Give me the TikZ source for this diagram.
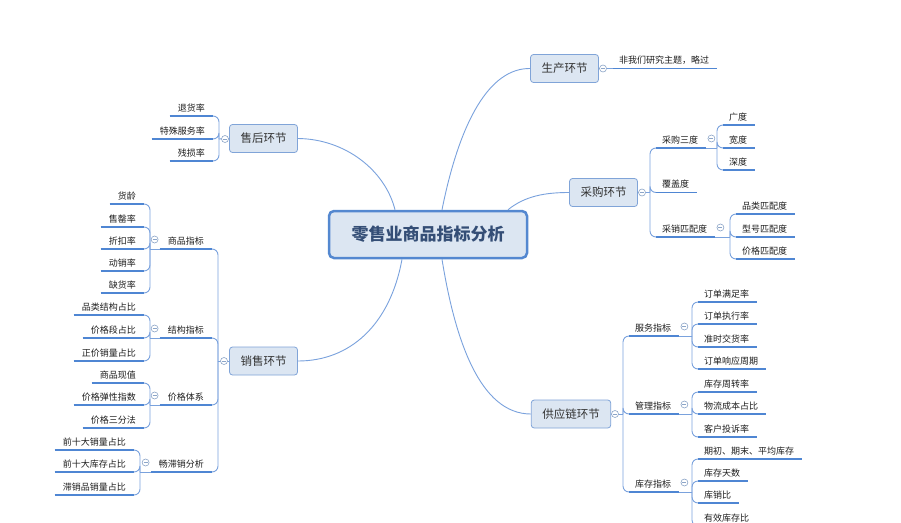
\documentclass[tikz,border=0pt]{standalone}
\usepackage{fontspec}
\setmainfont{Noto Sans CJK SC}
\usetikzlibrary{calc}
\definecolor{uln}{RGB}{79,134,211}
\definecolor{brl}{RGB}{122,162,221}
\definecolor{boxf}{RGB}{220,230,242}
\definecolor{boxd}{RGB}{128,164,216}
\definecolor{rootd}{RGB}{84,136,208}
\definecolor{roott}{RGB}{52,78,118}
\definecolor{togd}{RGB}{140,165,200}
\definecolor{txt}{RGB}{30,30,30}
\definecolor{ltxt}{RGB}{51,51,51}
\tikzset{
 lbl/.style={inner sep=0pt, font=\fontsize{9}{11}\selectfont, text=txt},
 uline/.style={draw=uln, line width=1.8pt},
 bline/.style={draw=brl, line width=0.9pt, rounded corners=6pt},
 cline/.style={draw=brl, line width=0.9pt},
 lone/.style={draw=boxd, fill=boxf, line width=0.8pt, rounded corners=3pt, inner xsep=11pt, inner ysep=0pt, minimum height=28pt, font=\fontsize{11.5}{13}\selectfont, text=ltxt},
 rootbox/.style={draw=rootd, fill=boxf, line width=2.5pt, rounded corners=5pt, minimum width=198pt, minimum height=47pt, inner sep=0pt, font=\fontsize{17}{20}\selectfont\bfseries, text=roott},
 tog/.style={circle, draw=togd, fill=white, line width=0.6pt, minimum size=7pt, inner sep=0pt,
   path picture={\draw[togd, line width=0.6pt] ([xshift=-2pt]path picture bounding box.center) -- ([xshift=2pt]path picture bounding box.center);}}
}
% right-side item: name, bracket x, line y, text
\newcommand{\RItem}[4]{%
  \node[lbl, anchor=base west] (#1) at (#2+12,#3-5) {#4};
  \coordinate (#1a) at (#2+6,#3);
  \coordinate (#1b) at ($(#1a -| #1.east)+(8,0)$);
  \draw[uline] (#1a) -- (#1b);
}
% left-side item
\newcommand{\LItem}[4]{%
  \node[lbl, anchor=base east] (#1) at (#2-14,#3-5) {#4};
  \coordinate (#1b) at (#2-6,#3);
  \coordinate (#1a) at ($(#1b -| #1.west)+(-8,0)$);
  \draw[uline] (#1a) -- (#1b);
}
\newcommand{\RPar}[5]{%
  \RItem{#1}{#2}{#3}{#4}
  \coordinate (#1J) at (#5,#3);
  \draw[bline] (#1b) -- (#1J);
  \node[tog] (#1t) at ($(#1b)+(5,-9.5)$) {};
}
\newcommand{\LPar}[5]{%
  \LItem{#1}{#2}{#3}{#4}
  \coordinate (#1J) at (#5,#3);
  \draw[bline] (#1a) -- (#1J);
  \node[tog] (#1t) at ($(#1a)+(-5,-9.5)$) {};
}
\newcommand{\RLink}[2]{\draw[bline] (#1) |- (#2a);}
\newcommand{\LLink}[2]{\draw[bline] (#1) |- (#2b);}
\begin{document}
\begin{tikzpicture}[x=1pt,y=-1pt]
\useasboundingbox (0,0) rectangle (901,522);
\fill[white] (0,0) rectangle (901,522);

% central node
\node[rootbox] (root) at (428,234.5) {零售业商品指标分析};

% level 1 nodes
\node[lone] (sc) at (564.5,68.5) {生产环节};
\node[lone] (cg) at (603.5,192.5) {采购环节};
\node[lone] (gy) at (571,414) {供应链环节};
\node[lone] (sh) at (263.5,138.5) {售后环节};
\node[lone] (xs) at (263.5,361) {销售环节};

% central connectors
\draw[cline] ([xshift=-33pt]root.north) .. controls (385,170) and (345,139) .. (sh.east);
\draw[cline] ([xshift=14pt]root.north) .. controls (460,120) and (490,68) .. (sc.west);
\draw[cline] ([xshift=80pt]root.north) .. controls (525,196) and (545,192.5) .. (cg.west);
\draw[cline] ([xshift=-26pt]root.south) .. controls (390,325) and (350,361) .. (xs.east);
\draw[cline] ([xshift=14pt]root.south) .. controls (455,340) and (480,414) .. (gy.west);

% ---------- 生产环节
\coordinate (scJ) at (607,68.5);
\RItem{sc1}{607}{68.5}{非我们研究主题，略过}
\draw[bline] (sc.east) -- (scJ) -- (sc1a);
\node[tog] (sct) at (603,68.5) {};

% ---------- 采购环节
\coordinate (cgJ) at (650,192.5);
\draw[bline] (cg.east) -- (cgJ);
\RPar{cg1}{650}{148}{采购三度}{717}
\RItem{cg2}{650}{192.5}{覆盖度}
\RPar{cg3}{650}{237}{采销匹配度}{730}
\RLink{cgJ}{cg1}\RLink{cgJ}{cg2}\RLink{cgJ}{cg3}
\RItem{cg11}{717}{125}{广度}
\RItem{cg12}{717}{148}{宽度}
\RItem{cg13}{717}{170}{深度}
\RLink{cg1J}{cg11}\RLink{cg1J}{cg12}\RLink{cg1J}{cg13}
\RItem{cg31}{730}{214}{品类匹配度}
\RItem{cg32}{730}{237}{型号匹配度}
\RItem{cg33}{730}{259}{价格匹配度}
\RLink{cg3J}{cg31}\RLink{cg3J}{cg32}\RLink{cg3J}{cg33}
\node[tog] (cgt) at (642,192.5) {};

% ---------- 供应链环节
\coordinate (gyJ) at (623,414);
\draw[bline] (gy.east) -- (gyJ);
\RPar{gy1}{623}{336}{服务指标}{692}
\RPar{gy2}{623}{414}{管理指标}{692}
\RPar{gy3}{623}{492}{库存指标}{692}
\RLink{gyJ}{gy1}\RLink{gyJ}{gy2}\RLink{gyJ}{gy3}
\RItem{gy11}{692}{302}{订单满足率}
\RItem{gy12}{692}{324}{订单执行率}
\RItem{gy13}{692}{347}{准时交货率}
\RItem{gy14}{692}{369}{订单响应周期}
\RLink{gy1J}{gy11}\RLink{gy1J}{gy12}\RLink{gy1J}{gy13}\RLink{gy1J}{gy14}
\RItem{gy21}{692}{392}{库存周转率}
\RItem{gy22}{692}{414}{物流成本占比}
\RItem{gy23}{692}{437}{客户投诉率}
\RLink{gy2J}{gy21}\RLink{gy2J}{gy22}\RLink{gy2J}{gy23}
\RItem{gy31}{692}{459}{期初、期末、平均库存}
\RItem{gy32}{692}{481}{库存天数}
\RItem{gy33}{692}{503}{库销比}
\RItem{gy34}{692}{526}{有效库存比}
\RLink{gy3J}{gy31}\RLink{gy3J}{gy32}\RLink{gy3J}{gy33}\RLink{gy3J}{gy34}
\node[tog] (gyt) at (615,414) {};

% ---------- 售后环节
\coordinate (shJ) at (219,139);
\draw[bline] (sh.west) -- (shJ);
\LItem{sh1}{219}{116}{退货率}
\LItem{sh2}{219}{139}{特殊服务率}
\LItem{sh3}{219}{161}{残损率}
\LLink{shJ}{sh1}\LLink{shJ}{sh2}\LLink{shJ}{sh3}
\node[tog] (sht) at (225,139) {};

% ---------- 销售环节
\coordinate (xsJ) at (218,361);
\draw[bline] (xs.west) -- (xsJ);
\LPar{xs1}{218}{249}{商品指标}{150}
\LPar{xs2}{218}{338}{结构指标}{150}
\LPar{xs3}{218}{405}{价格体系}{150}
\LPar{xs4}{218}{472}{畅滞销分析}{140}
\LLink{xsJ}{xs1}\LLink{xsJ}{xs2}\LLink{xsJ}{xs3}\LLink{xsJ}{xs4}
\LItem{xs11}{150}{204}{货龄}
\LItem{xs12}{150}{227}{售罄率}
\LItem{xs13}{150}{249}{折扣率}
\LItem{xs14}{150}{271}{动销率}
\LItem{xs15}{150}{293}{缺货率}
\LLink{xs1J}{xs11}\LLink{xs1J}{xs12}\LLink{xs1J}{xs13}\LLink{xs1J}{xs14}\LLink{xs1J}{xs15}
\LItem{xs21}{150}{315}{品类结构占比}
\LItem{xs22}{150}{338}{价格段占比}
\LItem{xs23}{150}{361}{正价销量占比}
\LLink{xs2J}{xs21}\LLink{xs2J}{xs22}\LLink{xs2J}{xs23}
\LItem{xs31}{150}{383}{商品现值}
\LItem{xs32}{150}{405}{价格弹性指数}
\LItem{xs33}{150}{428}{价格三分法}
\LLink{xs3J}{xs31}\LLink{xs3J}{xs32}\LLink{xs3J}{xs33}
\LItem{xs41}{140}{450}{前十大销量占比}
\LItem{xs42}{140}{472}{前十大库存占比}
\LItem{xs43}{140}{495}{滞销品销量占比}
\LLink{xs4J}{xs41}\LLink{xs4J}{xs42}\LLink{xs4J}{xs43}
\node[tog] (xst) at (224,361) {};
\end{tikzpicture}
\end{document}
